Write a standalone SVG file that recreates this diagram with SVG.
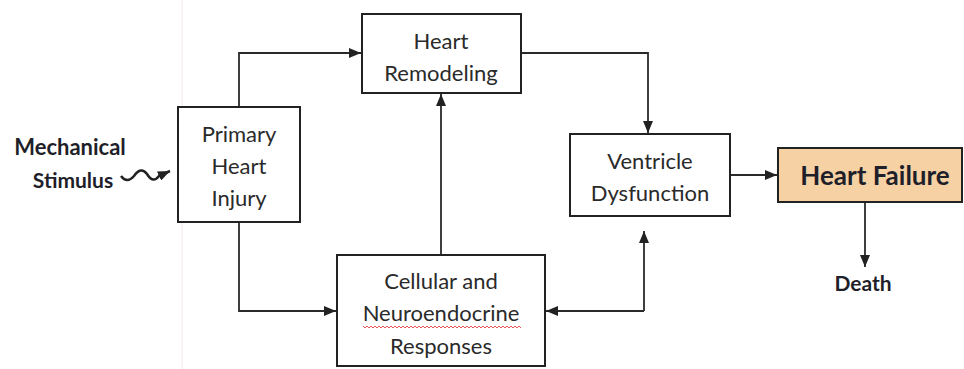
<svg xmlns="http://www.w3.org/2000/svg" width="964" height="369" viewBox="0 0 964 369">
<defs>
<marker id="ah" viewBox="0 0 12 10" refX="12" refY="5" markerWidth="12" markerHeight="10" markerUnits="userSpaceOnUse" orient="auto">
<path d="M0,0 L12,5 L0,10 z" fill="#222"/>
</marker>
<style>
.box{fill:#fff;stroke:#222;stroke-width:2}
.t{font-family:Lato,"Open Sans","Liberation Sans",sans-serif;font-size:22px;fill:#2a2a2a;text-anchor:middle;dominant-baseline:central}
.b{font-family:Lato,"Open Sans","Liberation Sans",sans-serif;font-weight:bold;fill:#1f1f2a;text-anchor:middle;dominant-baseline:central}
.c{fill:none;stroke:#2a2a2a;stroke-width:1.8}
</style>
</defs>
<rect width="964" height="369" fill="#fff"/>
<line x1="182" y1="0" x2="182" y2="369" stroke="#f3e6ea" stroke-width="1"/>
<g id="connectors">
<path class="c" d="M239,107 V53 H361" marker-end="url(#ah)"/>
<path class="c" d="M239,222 V311 H336" marker-end="url(#ah)"/>
<path class="c" d="M441,255 V94" marker-end="url(#ah)"/>
<path class="c" d="M521,53 H648 V133" marker-end="url(#ah)"/>
<path class="c" d="M644,311 V231" marker-end="url(#ah)"/>
<path class="c" d="M644,311 H546" marker-end="url(#ah)"/>
<path class="c" d="M730,175 H777" marker-end="url(#ah)"/>
<path class="c" d="M865,202 V267" marker-end="url(#ah)"/>
<path fill="none" stroke="#222" stroke-width="2.5" d="M121,176 Q127,184 134,176 Q141,166 147,174 Q153,184 159,176 L170,171" marker-end="url(#ah)"/>
</g>
<g id="stimulus">
<text class="b" x="70" y="146" font-size="22">Mechanical</text>
<text class="b" x="73" y="179" font-size="21">Stimulus</text>
</g>
<g id="primary">
<rect class="box" x="178" y="107" width="122" height="115"/>
<text class="t" x="239" y="133">Primary</text>
<text class="t" x="239" y="165">Heart</text>
<text class="t" x="239" y="197">Injury</text>
</g>
<g id="remodeling">
<rect class="box" x="362" y="14" width="159" height="79"/>
<text class="t" x="441" y="40">Heart</text>
<text class="t" x="441" y="72">Remodeling</text>
</g>
<g id="cellular">
<rect class="box" x="337" y="255" width="208" height="111"/>
<text class="t" x="441" y="280">Cellular  and</text>
<text class="t" x="441" y="312">Neuroendocrine</text>
<text class="t" x="441" y="345">Responses</text>
<path fill="none" stroke="#e04040" stroke-width="0.9" d="M363,326 l2,2 l2,-2 l2,2 l2,-2 l2,2 l2,-2 l2,2 l2,-2 l2,2 l2,-2 l2,2 l2,-2 l2,2 l2,-2 l2,2 l2,-2 l2,2 l2,-2 l2,2 l2,-2 l2,2 l2,-2 l2,2 l2,-2 l2,2 l2,-2 l2,2 l2,-2 l2,2 l2,-2 l2,2 l2,-2 l2,2 l2,-2 l2,2 l2,-2 l2,2 l2,-2 l2,2 l2,-2 l2,2 l2,-2 l2,2 l2,-2 l2,2 l2,-2 l2,2 l2,-2 l2,2 l2,-2 l2,2 l2,-2 l2,2 l2,-2 l2,2 l2,-2 l2,2 l2,-2 l2,2 l2,-2 l2,2 l2,-2 l2,2 l2,-2 l2,2 l2,-2 l2,2 l2,-2 l2,2 l2,-2 l2,2 l2,-2 l2,2 l2,-2 l2,2 l2,-2 l2,2 l2,-2 l2,2"/>
</g>
<g id="ventricle">
<rect class="box" x="570" y="134" width="160" height="82"/>
<text class="t" x="650" y="160">Ventricle</text>
<text class="t" x="650" y="192">Dysfunction</text>
</g>
<g id="failure">
<rect x="778" y="148" width="184" height="54" fill="#f6d1a3" stroke="#222" stroke-width="2"/>
<text class="b" x="875" y="175" font-size="26">Heart Failure</text>
</g>
<g id="death">
<text class="b" x="863" y="282" font-size="21">Death</text>
</g>
</svg>
